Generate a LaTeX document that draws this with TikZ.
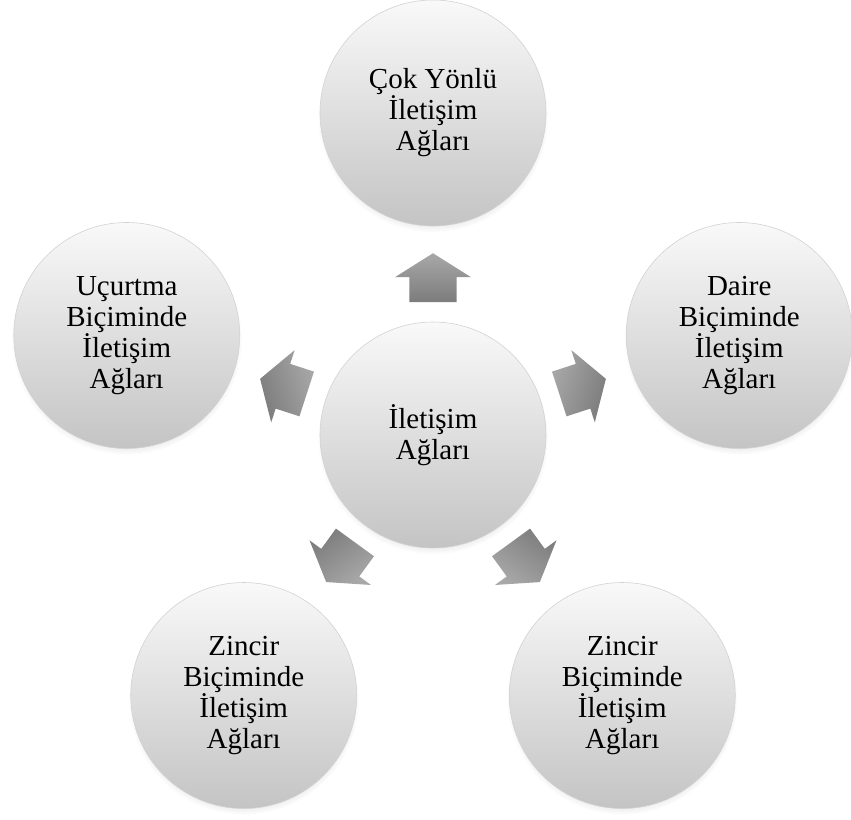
\documentclass[tikz,border=0pt]{standalone}
\usepackage{fontspec}
\setmainfont{Liberation Serif}
\usepackage{tikz}
\usepackage{xcolor}
\usetikzlibrary{calc,shadows}
\definecolor{GrisHaut}{HTML}{F9F9F9}
\definecolor{GrisBas}{HTML}{C4C4C4}
\definecolor{GrisBord}{HTML}{D2D2D2}
\definecolor{FlecheHaut}{HTML}{A8A8A8}
\definecolor{FlecheBas}{HTML}{7C7C7C}
\tikzset{
Cercle/.style={
 circle,
 draw=GrisBord,
 line width=0.6pt,
 top color=GrisHaut,
 bottom color=GrisBas,
 minimum size=226pt,
 inner sep=0pt,
 align=center,
 font=\fontsize{29}{31}\selectfont,
 circular drop shadow={shadow xshift=0pt, shadow yshift=-4pt, shadow scale=1.02, opacity=0.3}
 },
BlocFleche/.style={
 top color=FlecheHaut,
 bottom color=FlecheBas,
 draw=none
 }
}

\begin{document}
\begin{tikzpicture}[x=1pt,y=1pt]
\useasboundingbox (-433,-384) rectangle (418,435);
\node[Cercle] (centre) at (0,0) {İletişim\\Ağları};
\node[Cercle] (haut) at (90:322pt) {Çok Yönlü\\İletişim\\Ağları};
\node[Cercle] (droite) at (18:322pt) {Daire\\Biçiminde\\İletişim\\Ağları};
\node[Cercle] (basdroite) at (-54:322pt) {Zincir\\Biçiminde\\İletişim\\Ağları};
\node[Cercle] (basgauche) at (-126:322pt) {Zincir\\Biçiminde\\İletişim\\Ağları};
\node[Cercle] (gauche) at (162:322pt) {Uçurtma\\Biçiminde\\İletişim\\Ağları};
\foreach \nom/\ang in {haut/90,droite/18,basdroite/-54,basgauche/-126,gauche/162}
{
\begin{scope}[shift={($(centre)!0.49!(\nom)$)},rotate=\ang-90]
\shade[BlocFleche,shading angle=90-(\ang)] (0,24) -- (38,0) -- (23.5,0) -- (23.5,-25) -- (-23.5,-25) -- (-23.5,0) -- (-38,0) -- cycle;
\end{scope}
}
\end{tikzpicture}
\end{document}
